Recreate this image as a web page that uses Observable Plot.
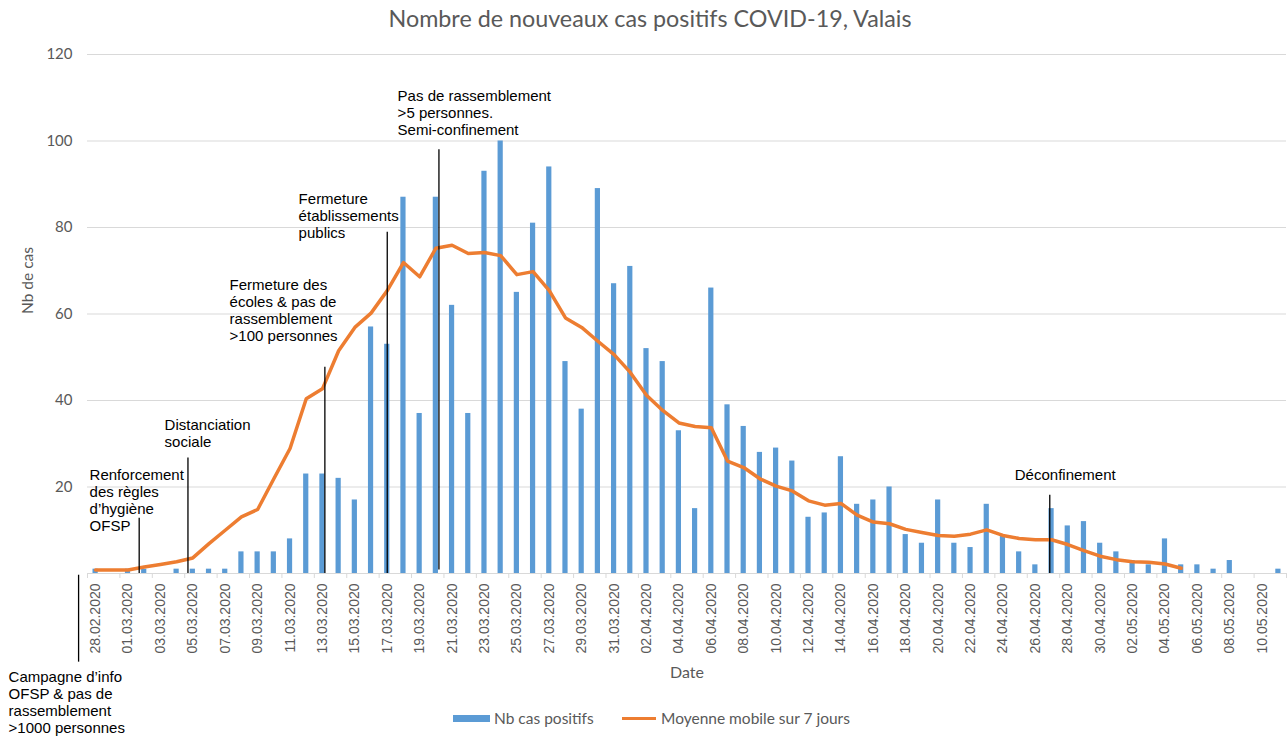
<!DOCTYPE html>
<html>
<head>
<meta charset="utf-8">
<script src="https://cdn.jsdelivr.net/npm/d3@7"></script>
<script src="https://cdn.jsdelivr.net/npm/@observablehq/plot@0.6"></script>
<style>
  html, body { margin: 0; padding: 0; background: #fff; }
  #wrap { position: relative; width: 1288px; height: 736px; overflow: hidden; }
  #title { height: 36px; line-height: 36px; text-align: center; padding-left: 12px; box-sizing: border-box;
           font-family: Lato, "Open Sans", sans-serif; font-size: 23.3px; color: #595959; }
  #legend { position: absolute; left: 0; top: 708px; width: 1288px; height: 20px;
            font-family: Lato, sans-serif; font-size: 15.5px; color: #595959; }
  .sw { position: absolute; }
  .lt { position: absolute; top: 0; line-height: 20px; }
</style>
</head>
<body>
<div id="wrap">
  <div id="title">Nombre de nouveaux cas positifs COVID-19, Valais</div>
  <div id="chart"></div>
  <div id="legend">
    <div class="sw" style="left:453px; top:7px; width:37px; height:7px; background:#5b9bd5;"></div>
    <div class="lt" style="left:494px;">Nb cas positifs</div>
    <div class="sw" style="left:622px; top:9px; width:34px; height:3px; background:#ed7d31;"></div>
    <div class="lt" style="left:661px;">Moyenne mobile sur 7 jours</div>
  </div>
</div>
<script>
// Category axis: one entry per day
const dates = [
  "28.02.2020","29.02.2020",
  "01.03.2020","02.03.2020","03.03.2020","04.03.2020","05.03.2020","06.03.2020","07.03.2020","08.03.2020","09.03.2020","10.03.2020",
  "11.03.2020","12.03.2020","13.03.2020","14.03.2020","15.03.2020","16.03.2020","17.03.2020","18.03.2020","19.03.2020","20.03.2020",
  "21.03.2020","22.03.2020","23.03.2020","24.03.2020","25.03.2020","26.03.2020","27.03.2020","28.03.2020","29.03.2020","30.03.2020","31.03.2020",
  "01.04.2020","02.04.2020","03.04.2020","04.04.2020","05.04.2020","06.04.2020","07.04.2020","08.04.2020","09.04.2020","10.04.2020",
  "11.04.2020","12.04.2020","13.04.2020","14.04.2020","15.04.2020","16.04.2020","17.04.2020","18.04.2020","19.04.2020","20.04.2020",
  "21.04.2020","22.04.2020","23.04.2020","24.04.2020","25.04.2020","26.04.2020","27.04.2020","28.04.2020","29.04.2020","30.04.2020",
  "01.05.2020","02.05.2020","03.05.2020","04.05.2020","05.05.2020","06.05.2020","07.05.2020","08.05.2020","09.05.2020","10.05.2020","11.05.2020"
];

// Nb cas positifs (daily)
const cases = [
  1, 0, 1, 1, 0, 1, 1, 1, 1, 5,
  5, 5, 8, 23, 23, 22, 17, 57, 53, 87,
  37, 87, 62, 37, 93, 100, 65, 81, 94, 49,
  38, 89, 67, 71, 52, 49, 33, 15, 66, 39,
  34, 28, 29, 26, 13, 14, 27, 16, 17, 20,
  9, 7, 17, 7, 6, 16, 9, 5, 2, 15,
  11, 12, 7, 5, 3, 2, 8, 2, 2, 1,
  3, 0, 0, 1
];

// Moyenne mobile sur 7 jours (28.02 -> 05.05)
const movingAvg = [
  0.8, 0.8, 0.8, 1.5, 2.1, 2.7, 3.6, 6.9, 10.0, 13.1,
  14.8, 21.9, 28.9, 40.4, 42.7, 51.5, 56.9, 60.2, 65.4, 71.9,
  68.6, 75.2, 75.9, 74.0, 74.2, 73.5, 69.1, 69.8, 65.4, 59.1,
  56.9, 53.7, 50.6, 46.5, 41.2, 37.7, 34.8, 34.0, 33.7, 26.0,
  24.5, 21.9, 20.2, 19.1, 16.8, 15.8, 16.2, 13.5, 11.9, 11.5,
  10.2, 9.5, 8.8, 8.6, 9.1, 10.1, 8.8, 8.1, 7.8, 7.8,
  6.7, 5.3, 4.0, 3.2, 2.7, 2.6, 2.2, 1.2
];

const yTicks = [20, 40, 60, 80, 100, 120];
const yGrid = [0, 20, 40, 60, 80, 100, 120];

// Annotations (day index along the category axis, values in "Nb de cas")
const annotLabels = [
  "Campagne d\u2019info\nOFSP & pas de\nrassemblement\n>1000 personnes",
  "Renforcement\ndes règles\nd\u2019hygiène\nOFSP",
  "Distanciation\nsociale",
  "Fermeture des\nécoles & pas de\nrassemblement\n>100 personnes",
  "Fermeture\nétablissements\npublics",
  "Pas de rassemblement\n>5 personnes.\nSemi-confinement",
  "Déconfinement"
];
const annotDay   = [-1.05, 2.69, 5.70, 14.15, 18.0, 21.19, 58.89];
const annotFrom  = [-0.4, 0, 0, 0, 0, 0.8, 0];
const annotTo    = [-20.5, 12.8, 26.7, 47.7, 78.9, 98.0, 18.1];
const annotTextX = [-5.37, -0.37, 4.26, 8.27, 12.53, 18.64, 56.73];
const annotTextY = [-22.3, 24.4, 36.0, 68.4, 88.3, 112.1, 24.4];

const table = dates.map((d, i) => ({i, date: d, cases: cases[i]}));
const avgTable = movingAvg.map((v, i) => ({i, avg: v}));
const annots = annotLabels.map((label, k) => ({
  label, x: annotDay[k], y1: annotFrom[k], y2: annotTo[k], tx: annotTextX[k], ty: annotTextY[k]
}));
const labelIdx = dates.map((d, i) => i).filter(i => i % 2 === 0);
const tickBounds = labelIdx.map(i => i - 0.5).concat([dates.length - 0.5]);

const gray = "#595959";
const plot = Plot.plot({
  width: 1288,
  height: 700,
  marginTop: 18,
  marginBottom: 163,
  marginLeft: 87,
  marginRight: 2,
  style: {background: "transparent", color: gray, overflow: "visible"},
  x: {type: "linear", domain: [-0.5, dates.length - 0.5]},
  y: {domain: [0, 120]},
  marks: [
    Plot.ruleY(yGrid, {stroke: "#d9d9d9", strokeWidth: 1}),
    Plot.axisX({ticks: tickBounds, tickSize: 5, tickFormat: () => "", stroke: "#d9d9d9"}),
    Plot.axisX({ticks: labelIdx, tickFormat: i => dates[i], tickSize: 0, tickPadding: 10, tickRotate: -90,
                fontSize: 14, fontFamily: "Liberation Sans, Arial, sans-serif", fill: gray, label: null}),
    Plot.axisY({ticks: yTicks, tickSize: 0, tickPadding: 15, fontSize: 15, fontFamily: "Lato, sans-serif",
                fill: gray, label: null}),
    Plot.rectY(table, {x1: d => d.i - 0.5, x2: d => d.i + 0.5, y1: 0, y2: "cases", fill: "#5b9bd5",
                       insetLeft: 5.5, insetRight: 5.5}),
    Plot.line(avgTable, {x: "i", y: "avg", stroke: "#ed7d31", strokeWidth: 3.5,
                         strokeLinejoin: "round", strokeLinecap: "round"}),
    Plot.ruleX(annots, {x: "x", y1: "y1", y2: "y2", stroke: "#000", strokeWidth: 1.3}),
    Plot.text(annots, {x: "tx", y: "ty", text: "label", textAnchor: "start", lineAnchor: "top",
                       fontSize: 15, fontFamily: "Liberation Sans, Arial, sans-serif", fill: "#000",
                       lineHeight: 1.14}),
    Plot.text(["Nb de cas"], {text: d => d, frameAnchor: "left", dx: -59, rotate: -90, fontSize: 15.5,
                              fontFamily: "Lato, sans-serif", fill: gray}),
    Plot.text(["Date"], {text: d => d, frameAnchor: "bottom", dy: 104, fontSize: 16,
                         fontFamily: "Lato, sans-serif", fill: gray})
  ]
});
document.getElementById("chart").appendChild(plot);
</script>
</body>
</html>
